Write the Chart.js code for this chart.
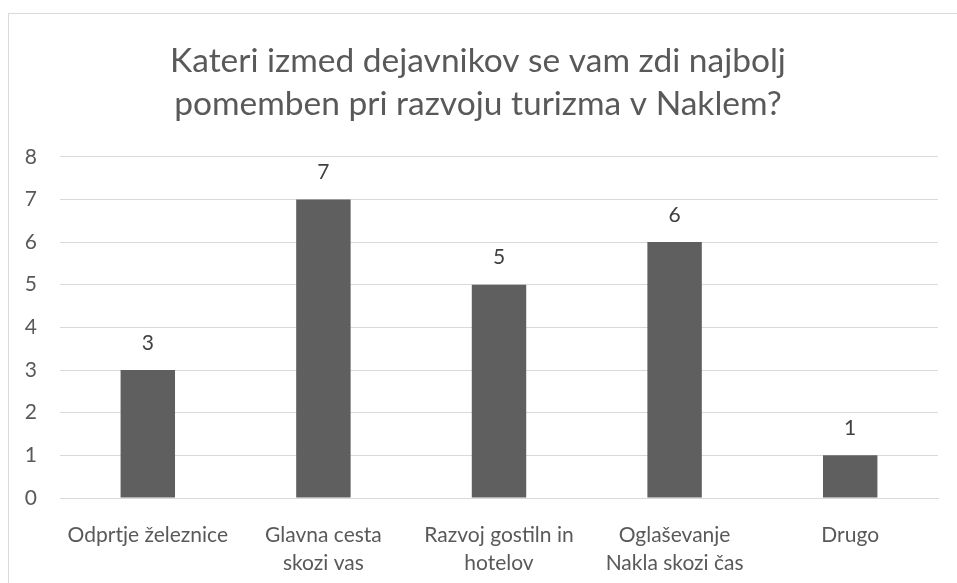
<!DOCTYPE html>
<html>
<head>
<meta charset="utf-8">
<script src="https://cdn.jsdelivr.net/npm/chart.js@4"></script>
<style>
  body { margin: 0; overflow: hidden; background: #fff; }
  #frame { position: absolute; left: 8px; top: 13px; width: 1000px; height: 700px; border: 1px solid #d9d9d9; }
  #bar { position: absolute; left: 0; top: 0; }
</style>
</head>
<body>
<div id="frame"></div>
<canvas id="bar" width="957" height="583"></canvas>
<script>
var categories = [
  'Odprtje železnice',
  ['Glavna cesta', 'skozi vas'],
  ['Razvoj gostiln in', 'hotelov'],
  ['Oglaševanje', 'Nakla skozi čas'],
  'Drugo'
];
var answers = [3, 7, 5, 6, 1];
var titleLines = ['Kateri izmed dejavnikov se vam zdi najbolj', 'pomemben pri razvoju turizma v Naklem?'];

var FONT = 'Lato, "Open Sans", sans-serif';
var GREY = '#595959';

// value labels above each bar
var barLabels = {
  id: 'barLabels',
  afterDatasetsDraw: function(chart) {
    var ctx = chart.ctx;
    var meta = chart.getDatasetMeta(0);
    ctx.save();
    ctx.font = '21px ' + FONT;
    ctx.fillStyle = '#404040';
    ctx.textAlign = 'center';
    ctx.textBaseline = 'middle';
    meta.data.forEach(function(bar, i) {
      ctx.fillText(answers[i], bar.x, bar.y - 27);
    });
    ctx.restore();
  }
};

new Chart(document.getElementById('bar'), {
  type: 'bar',
  data: {
    labels: categories,
    datasets: [{
      data: answers,
      backgroundColor: '#5f5f5f',
      categoryPercentage: 1,
      barPercentage: 0.31
    }]
  },
  options: {
    responsive: false,
    animation: false,
    layout: { padding: { left: 18, right: 19, top: 0, bottom: 0 } },
    plugins: {
      legend: { display: false },
      tooltip: { enabled: false },
      title: {
        display: true,
        text: titleLines,
        color: GREY,
        font: { family: FONT, size: 33.5, weight: 'normal', lineHeight: 1.28 },
        padding: { top: 40, bottom: 31 }
      }
    },
    scales: {
      x: {
        grid: { display: false },
        border: { color: '#d9d9d9' },
        ticks: {
          color: GREY,
          padding: 16,
          maxRotation: 0,
          font: { family: FONT, size: 21, lineHeight: 1.3 }
        },
        afterFit: function(scale) { scale.height = 85; }
      },
      y: {
        min: 0,
        max: 8,
        border: { display: false },
        grid: { color: '#d9d9d9', drawTicks: false },
        ticks: {
          stepSize: 1,
          color: GREY,
          padding: 23,
          font: { family: FONT, size: 21 }
        },
        afterFit: function(scale) { scale.width = 42; }
      }
    }
  },
  plugins: [barLabels]
});
</script>
</body>
</html>
